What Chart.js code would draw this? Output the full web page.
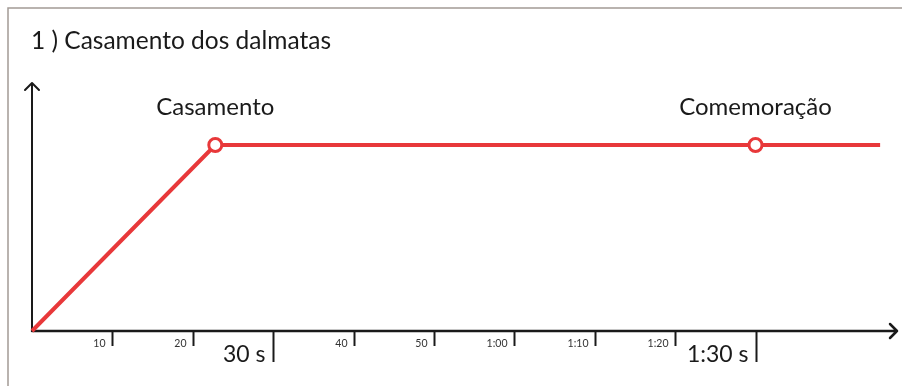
<!DOCTYPE html>
<html>
<head>
<meta charset="utf-8">
<title>Casamento dos dalmatas</title>
<script src="https://cdn.jsdelivr.net/npm/chart.js@4/dist/chart.umd.min.js"></script>
<style>
  html, body { margin: 0; padding: 0; background: #fff; }
  #wrap { width: 902px; height: 386px; }
</style>
</head>
<body>
<div id="wrap"><canvas id="chart" width="902" height="386"></canvas></div>
<script>
// Data (time in seconds, height in % of the axis)
const times = [0, 22.8, 90, 105.5];
const heights = [0, 75, 75, 75];
const markerRadius = [0, 6.5, 6.5, 0];

const eventNames = ['Casamento', 'Comemoração'];
const eventTimes = [22.8, 90];

const tickValues = [10, 20, 30, 40, 50, 60, 70, 80, 90];
const tickLabels = ['10', '20', '30 s', '40', '50', '1:00', '1:10', '1:20', '1:30 s'];
const majorTicks = [30, 90];

const TITLE = '1 ) Casamento dos dalmatas';
const FONT = 'Lato, "Open Sans", sans-serif';
const RED = '#e8383a';
const INK = '#1a1a1a';

// Frame, axes with arrows, ticks and texts, drawn from the chart scales
const sketchPlugin = {
  id: 'sketch',
  beforeDraw(chart) {
    const ctx = chart.ctx;
    ctx.save();
    ctx.fillStyle = '#fff';
    ctx.fillRect(0, 0, chart.width, chart.height);
    // thin gray frame (top and left)
    ctx.strokeStyle = '#a39b95';
    ctx.lineWidth = 1.5;
    ctx.beginPath();
    ctx.moveTo(8, chart.height);
    ctx.lineTo(8, 8);
    ctx.lineTo(chart.width, 8);
    ctx.stroke();
    // title
    ctx.fillStyle = INK;
    ctx.font = '24.5px ' + FONT;
    ctx.textBaseline = 'alphabetic';
    ctx.textAlign = 'left';
    ctx.fillText(TITLE, 31, 49);
    ctx.restore();
  },
  beforeDatasetsDraw(chart) {
    const ctx = chart.ctx;
    const xs = chart.scales.x;
    const ys = chart.scales.y;
    const x0 = xs.getPixelForValue(0);
    const y0 = ys.getPixelForValue(0);
    const xEnd = xs.getPixelForValue(xs.max);
    const yTop = ys.getPixelForValue(ys.max);

    ctx.save();
    ctx.strokeStyle = INK;
    ctx.lineCap = 'round';
    ctx.lineJoin = 'round';

    // y axis with arrow
    ctx.lineWidth = 2;
    ctx.beginPath();
    ctx.moveTo(x0, y0);
    ctx.lineTo(x0, yTop);
    ctx.moveTo(x0 - 7, yTop + 7);
    ctx.lineTo(x0, yTop);
    ctx.lineTo(x0 + 7, yTop + 7);
    ctx.stroke();

    // x axis with arrow
    ctx.lineWidth = 2.5;
    ctx.beginPath();
    ctx.moveTo(x0, y0);
    ctx.lineTo(xEnd, y0);
    ctx.moveTo(xEnd - 7, y0 - 7);
    ctx.lineTo(xEnd, y0);
    ctx.lineTo(xEnd - 7, y0 + 7);
    ctx.stroke();

    // ticks and their labels (left of the tick)
    ctx.lineCap = 'butt';
    tickValues.forEach((v, i) => {
      const px = Math.round(xs.getPixelForValue(v)) + 0.5;
      const major = majorTicks.includes(v);
      ctx.lineWidth = 2;
      ctx.beginPath();
      ctx.moveTo(px, y0);
      ctx.lineTo(px, y0 + (major ? 31 : 15));
      ctx.stroke();

      ctx.fillStyle = major ? INK : '#333';
      ctx.textAlign = 'right';
      ctx.textBaseline = 'alphabetic';
      if (major) {
        ctx.font = '23px ' + FONT;
        ctx.fillText(tickLabels[i], px - 8, y0 + 31);
      } else {
        ctx.font = '10.5px ' + FONT;
        ctx.fillText(tickLabels[i], px - 7, y0 + 16);
      }
    });

    // event labels above the markers
    ctx.fillStyle = INK;
    ctx.font = '24px ' + FONT;
    ctx.textAlign = 'center';
    ctx.textBaseline = 'alphabetic';
    eventNames.forEach((name, i) => {
      const px = xs.getPixelForValue(eventTimes[i]);
      ctx.fillText(name, px, 115);
    });
    ctx.restore();
  }
};

function renderChart() {
  const ctx = document.getElementById('chart').getContext('2d');
  const points = times.map((t, i) => ({ x: t, y: heights[i] }));

  new Chart(ctx, {
    type: 'line',
    data: {
      datasets: [{
        data: points,
        borderColor: RED,
        borderWidth: 4,
        pointRadius: markerRadius,
        pointHoverRadius: markerRadius,
        pointBackgroundColor: '#fff',
        pointBorderColor: RED,
        pointBorderWidth: 3,
        tension: 0,
        clip: false,
      }],
    },
    options: {
      responsive: false,
      animation: false,
      events: [],
      layout: {
        padding: { left: 32, right: 5, top: 83, bottom: 55 },
      },
      plugins: {
        legend: { display: false },
        tooltip: { enabled: false },
        title: { display: false },
      },
      scales: {
        x: { type: 'linear', min: 0, max: 107.6, display: false },
        y: { type: 'linear', min: 0, max: 100, display: false },
      },
    },
    plugins: [sketchPlugin],
  });
}

document.addEventListener('DOMContentLoaded', renderChart);
</script>
</body>
</html>
